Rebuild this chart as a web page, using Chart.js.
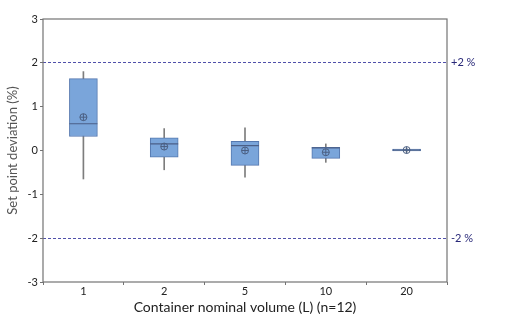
<!DOCTYPE html>
<html>
<head>
<meta charset="utf-8">
<script src="https://cdn.jsdelivr.net/npm/chart.js@4.4.0/dist/chart.umd.min.js"></script>
<style>
    body { margin: 0; background: #fff; }
    #wrap { width: 509px; height: 326px; position: relative; }
</style>
</head>
<body>
<div id="wrap"><canvas id="myPlot"></canvas></div>
<script>
const volumes = ['1', '2', '5', '10', '20'];

const whiskerLow  = [-0.65, -0.44, -0.61, -0.27, -0.04];
const whiskerHigh = [1.80, 0.50, 0.52, 0.15, 0.05];
const q1 = [0.32, -0.15, -0.34, -0.18, -0.01];
const q3 = [1.64, 0.29, 0.21, 0.075, 0.03];
const medians = [0.61, 0.15, 0.11, 0.06, 0.01];
const means = [0.76, 0.09, 0.00, -0.04, 0.01];

const limits = [-2, 2];
const limitLabels = {'-2': '-2 %', '2': '+2 %'};

const font = "Lato, 'DejaVu Sans', sans-serif";

// frame around plot area (top and right borders too)
const framePlugin = {
    id: 'frame',
    afterDatasetsDraw(chart) {
        const a = chart.chartArea;
        const ctx = chart.ctx;
        ctx.save();
        ctx.strokeStyle = 'rgb(115,115,115)';
        ctx.lineWidth = 1.2;
        ctx.strokeRect(a.left, a.top, a.right - a.left, a.bottom - a.top);
        ctx.restore();
    }
};

let whiskers = volumes.map((v, i) => [whiskerLow[i], whiskerHigh[i]]);
let boxes = volumes.map((v, i) => [q1[i], q3[i]]);

new Chart("myPlot", {
    type: 'bar',
    data: {
        labels: volumes,
        datasets: [
            {
                data: whiskers,
                backgroundColor: 'rgb(125,125,125)',
                barThickness: 1,
                grouped: false,
                order: 4
            },
            {
                data: boxes,
                backgroundColor: 'rgb(122,165,218)',
                borderColor: 'rgb(85,120,175)',
                borderWidth: 1,
                borderSkipped: false,
                barThickness: 28,
                grouped: false,
                order: 3
            },
            {
                type: 'line',
                data: medians,
                showLine: false,
                pointStyle: 'line',
                pointRadius: 14,
                pointBorderWidth: 1.2,
                pointBorderColor: 'rgb(75,95,135)',
                order: 2
            },
            {
                type: 'line',
                data: means,
                showLine: false,
                pointStyle: 'circle',
                pointRadius: 3.5,
                pointBackgroundColor: 'rgba(0,0,0,0)',
                pointBorderWidth: 1,
                pointBorderColor: 'rgb(75,95,130)',
                order: 1
            },
            {
                type: 'line',
                data: means,
                showLine: false,
                pointStyle: 'cross',
                pointRadius: 3.5,
                pointBorderWidth: 1,
                pointBorderColor: 'rgb(75,95,130)',
                order: 1
            }
        ]
    },
    plugins: [framePlugin],
    options: {
        responsive: true,
        maintainAspectRatio: false,
        animation: false,
        layout: { padding: { top: 19, left: 0, right: 0, bottom: 10 } },
        plugins: {
            legend: { display: false },
            tooltip: { enabled: false }
        },
        scales: {
            x: {
                grid: { display: true, drawOnChartArea: false, drawTicks: true, tickLength: 3, color: 'rgb(115,115,115)' },
                border: { display: false },
                ticks: { color: '#222', font: { family: font, size: 11 }, padding: 0 },
                title: {
                    display: true,
                    text: 'Container nominal volume (L) (n=12)',
                    color: '#222',
                    font: { family: font, size: 14 },
                    padding: { top: 0, bottom: 0 }
                },
                afterFit(scale) { scale.height = 34; }
            },
            y: {
                min: -3,
                max: 3,
                ticks: { stepSize: 1, color: '#222', font: { family: font, size: 11 }, padding: 2 },
                grid: { display: true, drawOnChartArea: false, drawTicks: true, tickLength: 3, color: 'rgb(115,115,115)' },
                border: { display: false },
                title: {
                    display: true,
                    text: 'Set point deviation (%)',
                    color: '#555',
                    font: { family: font, size: 13 },
                    padding: { top: 5, bottom: 0 }
                },
                afterFit(scale) { scale.width = 43; }
            },
            y2: {
                position: 'right',
                min: -3,
                max: 3,
                afterBuildTicks(scale) {
                    scale.ticks = limits.map(v => ({ value: v }));
                },
                ticks: {
                    color: 'rgb(40,40,120)',
                    font: { family: font, size: 11 },
                    padding: 4,
                    callback: v => limitLabels[String(v)]
                },
                grid: { display: true, drawTicks: false, color: 'rgb(80,80,170)', lineWidth: 1 },
                border: { display: false, dash: [3, 2] },
                afterFit(scale) { scale.width = 62; }
            }
        }
    }
});
</script>
</body>
</html>
